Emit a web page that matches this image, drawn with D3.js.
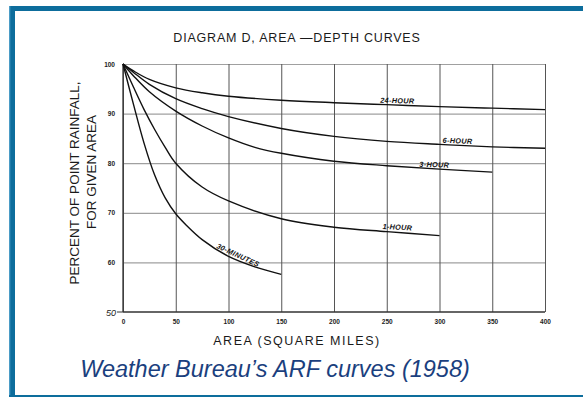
<!DOCTYPE html>
<html>
<head>
<meta charset="utf-8">
<script src="https://cdn.jsdelivr.net/npm/d3@7/dist/d3.min.js"></script>
<style>
  body { margin: 0; background: #fff; }
  svg { display: block; font-family: "Liberation Sans", Arial, sans-serif; }
</style>
</head>
<body>
<svg id="chart" width="583" height="397"></svg>
<script>
// data (area in sq miles, percent of point rainfall)
var xTicks = [0, 50, 100, 150, 200, 250, 300, 350, 400];
var yTicks = [60, 70, 80, 90, 100];

var area30min = [0, 10, 20, 30, 40, 50, 60, 75, 100, 125, 150];
var pct30min  = [100, 91.8, 84, 77.6, 73, 69.8, 67.5, 64.6, 61.2, 59.1, 57.6];

var area1hr = [0, 10, 20, 30, 40, 50, 75, 100, 150, 200, 250, 300];
var pct1hr  = [100, 95.3, 90.8, 86.8, 83.2, 80.0, 75.2, 72.4, 68.8, 67.1, 66.2, 65.4];

var area3hr = [0, 10, 25, 50, 75, 100, 125, 150, 200, 250, 300, 350];
var pct3hr  = [100, 97.6, 94.4, 90.5, 87.5, 85.1, 83.2, 82.0, 80.4, 79.5, 78.8, 78.2];

var area6hr = [0, 10, 25, 50, 75, 100, 150, 200, 250, 300, 350, 400];
var pct6hr  = [100, 98.3, 95.9, 93.0, 91.0, 89.4, 87.0, 85.4, 84.4, 83.8, 83.3, 83.0];

var area24hr = [0, 10, 25, 50, 75, 100, 150, 200, 250, 300, 350, 400];
var pct24hr  = [100, 98.6, 96.9, 95.2, 94.2, 93.5, 92.7, 92.2, 91.8, 91.4, 91.1, 90.8];

var curveNames = ['30-MINUTES', '1-HOUR', '3-HOUR', '6-HOUR', '24-HOUR'];

var svg = d3.select('#chart');

// frame of the slide
svg.append('rect').attr('x', 9).attr('y', 6).attr('width', 580).attr('height', 5).attr('fill', '#0d6d9c');
svg.append('rect').attr('x', 9).attr('y', 6).attr('width', 6).attr('height', 391).attr('fill', '#0d6d9c');
svg.append('rect').attr('x', 9).attr('y', 6).attr('width', 1.3).attr('height', 391).attr('fill', '#4b9cc6');
svg.append('rect').attr('x', 9).attr('y', 395).attr('width', 580).attr('height', 2).attr('fill', '#0d6d9c');

// plot area (don't call it "top", that's window.top)
var plotLeft = 123, plotRight = 545, plotTop = 64, plotBottom = 312;

var xScale = d3.scaleLinear().domain([0, 400]).range([plotLeft, plotRight]);
var yScale = d3.scaleLinear().domain([50, 100]).range([plotBottom, plotTop]);

var g = svg.append('g');

// horizontal grid
var yGrid = g.append('g')
    .attr('transform', 'translate(' + plotLeft + ',0)')
    .call(d3.axisLeft(yScale).tickValues(yTicks).tickSize(-(plotRight - plotLeft)).tickFormat(''));
yGrid.select('.domain').remove();
yGrid.selectAll('line').attr('stroke', '#a0a0a0').attr('stroke-width', 1.2);

// vertical grid
var xGrid = g.append('g')
    .attr('transform', 'translate(0,' + plotBottom + ')')
    .call(d3.axisBottom(xScale).tickValues(xTicks).tickSize(-(plotBottom - plotTop)).tickFormat(''));
xGrid.select('.domain').remove();
xGrid.selectAll('line').attr('stroke', '#555').attr('stroke-width', 1);

// axis lines
g.append('line').attr('x1', xScale(0)).attr('x2', xScale(400)).attr('y1', yScale(50)).attr('y2', yScale(50))
    .attr('stroke', '#333').attr('stroke-width', 1.3);
g.append('line').attr('x1', xScale(0)).attr('x2', xScale(0)).attr('y1', yScale(50)).attr('y2', yScale(100))
    .attr('stroke', '#333').attr('stroke-width', 1.3);
g.append('line').attr('x1', xScale(0) - 6).attr('x2', xScale(0)).attr('y1', yScale(50)).attr('y2', yScale(50))
    .attr('stroke', '#333').attr('stroke-width', 1);

// tick labels
var xAxis = g.append('g')
    .attr('transform', 'translate(0,' + (plotBottom + 3) + ')')
    .call(d3.axisBottom(xScale).tickValues(xTicks).tickSize(0));
xAxis.select('.domain').remove();
xAxis.selectAll('text').attr('font-size', 6.5).attr('font-weight', 'bold').attr('fill', '#222').attr('dy', '0.9em');

var yAxis = g.append('g')
    .attr('transform', 'translate(' + (plotLeft - 5) + ',0)')
    .call(d3.axisLeft(yScale).tickValues(yTicks).tickSize(0));
yAxis.select('.domain').remove();
yAxis.selectAll('text').attr('font-size', 6.5).attr('font-weight', 'bold').attr('fill', '#222');

g.append('text').attr('x', plotLeft - 7).attr('y', yScale(50) + 3.5)
    .attr('text-anchor', 'end').attr('font-size', 9).attr('font-style', 'italic').attr('fill', '#222')
    .text('50');

// curves
var line = d3.line()
    .x(function(d){ return xScale(d[0]); })
    .y(function(d){ return yScale(d[1]); })
    .curve(d3.curveCatmullRom.alpha(0.5));

var series = [
    d3.zip(area30min, pct30min),
    d3.zip(area1hr, pct1hr),
    d3.zip(area3hr, pct3hr),
    d3.zip(area6hr, pct6hr),
    d3.zip(area24hr, pct24hr)
];

g.selectAll('path.curve')
    .data(series)
    .enter()
    .append('path')
        .attr('class', 'curve')
        .attr('d', line)
        .attr('fill', 'none')
        .attr('stroke', '#111')
        .attr('stroke-width', 1.4);

// curve labels, sitting on each curve
var labelAt = [
    {area: 108, val: 61.0, rot: 25},
    {area: 260, val: 66.6, rot: 3},
    {area: 295, val: 79.2, rot: 2},
    {area: 317, val: 84.0, rot: 2},
    {area: 260, val: 92.1, rot: 1.5}
];
g.selectAll('text.lbl')
    .data(curveNames)
    .enter()
    .append('text')
        .attr('class', 'lbl')
        .attr('transform', function(d, i){
            var p = labelAt[i];
            return 'translate(' + xScale(p.area) + ',' + yScale(p.val) + ') rotate(' + p.rot + ')';
        })
        .attr('text-anchor', 'middle')
        .attr('font-size', 7.3)
        .attr('font-weight', 'bold')
        .attr('font-style', 'italic')
        .attr('letter-spacing', 0.3)
        .attr('fill', '#111')
        .text(function(d){ return d; });

// titles
svg.append('text').attr('x', 297).attr('y', 42).attr('text-anchor', 'middle')
    .attr('font-size', 12.5).attr('letter-spacing', 0.8).attr('fill', '#1a1a1a')
    .text('DIAGRAM D,  AREA \u2014DEPTH  CURVES');

svg.append('text').attr('x', 297).attr('y', 345).attr('text-anchor', 'middle')
    .attr('font-size', 12.5).attr('letter-spacing', 1.5).attr('fill', '#1a1a1a')
    .text('AREA (SQUARE  MILES)');

svg.append('text').attr('transform', 'translate(79,183) rotate(-90)').attr('text-anchor', 'middle')
    .attr('font-size', 13.5).attr('fill', '#1a1a1a')
    .text('PERCENT OF POINT RAINFALL,');
svg.append('text').attr('transform', 'translate(96,172) rotate(-90)').attr('text-anchor', 'middle')
    .attr('font-size', 13.5).attr('fill', '#1a1a1a')
    .text('FOR GIVEN AREA');

svg.append('text').attr('x', 275).attr('y', 377).attr('text-anchor', 'middle')
    .attr('font-size', 23.5).attr('font-style', 'italic').attr('fill', '#1b3f7e')
    .text('Weather Bureau\u2019s ARF curves (1958)');
</script>
</body>
</html>
